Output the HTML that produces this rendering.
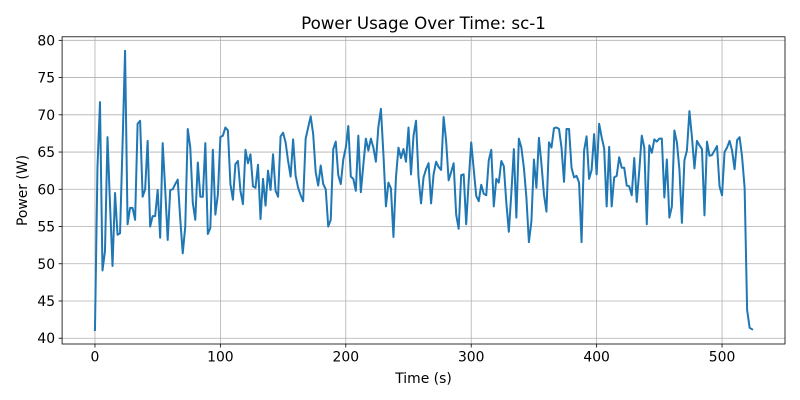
<!DOCTYPE html>
<html><head><meta charset="utf-8"><style>
html,body{margin:0;padding:0;background:#fff;}
svg{display:block;font-family:"DejaVu Sans","Liberation Sans",sans-serif;}
</style></head><body>
<svg id="chart" width="800" height="400" viewBox="0 0 800 400">
<rect width="800" height="400" fill="#fff"/>
<text x="423.5" y="29" text-anchor="middle" font-size="16.7" fill="#000">Power Usage Over Time: sc-1</text>
<text x="423.5" y="383" text-anchor="middle" font-size="13.9" fill="#000">Time (s)</text>
<text x="27" y="190.5" text-anchor="middle" font-size="13.9" fill="#000" transform="rotate(-90 27 190.5)">Power (W)</text>
<g id="grid"></g>
<g id="ticks"></g>
<g id="series"></g>
<rect x="62.1" y="36.8" width="722.9" height="307.2" fill="none" stroke="#000" stroke-width="0.8"/>
</svg>
<script>
const values = [41.1,63,71.7,49.1,51.7,67,58,49.7,59.5,53.9,54.1,66,78.6,55.3,57.5,57.5,55.9,68.8,69.2,59,60,66.5,55,56.4,56.4,59.9,53.5,66.2,60,53.2,59.9,60,60.7,61.3,56,51.4,55,68.1,65.6,58.2,55.9,63.6,59,59,66.2,54,54.8,65.3,56.6,59.3,67,67.2,68.3,67.9,60.7,58.6,63.4,63.8,59.8,58,65.3,63.5,64.7,60.4,60.2,63.3,
56,61.4,57.8,62.5,59.9,64.7,59.8,59,67.1,67.6,66.3,63.8,61.7,66.7,61.8,60.2,59.2,58.4,66.8,68.3,69.8,67.4,62.3,60.5,63.2,60.7,60,55,55.9,65.4,66.4,61.9,60.7,64,65.6,68.5,61.7,61.4,59.8,67.2,59.6,63.3,66.8,65.2,66.8,65.6,63.7,68.4,70.8,64.7,57.7,60.9,60.1,53.6,61.6,65.6,64.2,65.4,63.7,68.3,62,67.2,69.2,61.6,
58.1,61.6,62.7,63.5,58.1,62,63.7,63,62.6,69.7,66.5,61.2,62.3,63.5,56.6,54.7,61.9,62,55.3,61.1,66.3,62.7,59.1,58.4,60.6,59.4,59.2,63.9,65.3,57.7,61.4,60.9,63.8,63.1,58.2,54.3,59.5,65.4,56.2,66.8,65.6,62.9,58.9,52.9,55.7,64,60.2,66.9,63.4,59.3,57,66.3,65.6,68.2,68.3,68.1,65.6,61,68.1,68.1,62.9,61.6,61.8,60.9,
52.9,65.2,67.1,61.4,62.6,67.4,62,68.8,67,65.5,57.7,65.7,57.7,61.6,61.8,64.3,62.9,62.9,60.5,60.4,59.2,64.2,58.3,62.5,67.2,65.6,55.3,65.9,64.9,66.7,66.4,66.8,66.8,58.9,64,56.2,57.7,67.9,66.3,62.7,55.5,63.9,65.2,70.5,67,62.8,66.5,65.9,65.4,56.5,66.4,64.5,64.6,65.2,65.8,60.4,59.2,65,65.6,66.5,65.2,62.7,66.6,67,64.3,60.2,43.8,41.4,41.2];
const sampleStep = 2;
const times = values.map((_, i) => i * sampleStep);
const xTicks = [0,100,200,300,400,500];
const yTicks = [40,45,50,55,60,65,70,75,80];

const L=62.1,R=785,T=36.8,B=344;
const tMin=Math.min(...times),tMax=Math.max(...times);
const vMin=Math.min(...values),vMax=Math.max(...values);
const xm=(tMax-tMin)*0.05, ym=(vMax-vMin)*0.05;
const x0=tMin-xm,x1=tMax+xm,y0=vMin-ym,y1=vMax+ym;
const xs=t=>L+(t-x0)/(x1-x0)*(R-L);
const ys=v=>B-(v-y0)/(y1-y0)*(B-T);
const NS='http://www.w3.org/2000/svg';
const grid=document.getElementById('grid'),ticks=document.getElementById('ticks'),series=document.getElementById('series');
function mk(tag,attrs){const e=document.createElementNS(NS,tag);for(const k in attrs)e.setAttribute(k,attrs[k]);return e;}
xTicks.forEach(t=>{
  const x=xs(t);
  const g=mk('line',{x1:x,x2:x,y1:T,y2:B,stroke:'#b0b0b0','stroke-width':0.8});
  
  
  grid.appendChild(g);
  const tk=mk('line',{x1:x,x2:x,y1:B,y2:B+3.5,stroke:'#000','stroke-width':0.8});
  
  
  ticks.appendChild(tk);
  const lb=mk('text',{x:x,y:B+17.5,'text-anchor':'middle','font-size':13.9,fill:'#000'});
  lb.textContent=t;
  
  
  ticks.appendChild(lb);
});
yTicks.forEach(v=>{
  const y=ys(v);
  const g=mk('line',{x1:L,x2:R,y1:y,y2:y,stroke:'#b0b0b0','stroke-width':0.8});
  
  
  grid.appendChild(g);
  const tk=mk('line',{x1:L-3.5,x2:L,y1:y,y2:y,stroke:'#000','stroke-width':0.8});
  
  
  ticks.appendChild(tk);
  const lb=mk('text',{x:L-7,y:y+5,'text-anchor':'end','font-size':13.9,fill:'#000'});
  lb.textContent=v;
  
  
  ticks.appendChild(lb);
});
const d=values.map((v,i)=>(i?'L':'M')+xs(times[i]).toFixed(2)+' '+ys(v).toFixed(2)).join('');
const p=mk('path',{d:d,fill:'none',stroke:'#1f77b4','stroke-width':2,'stroke-linejoin':'round','stroke-linecap':'square'});


series.appendChild(p);
</script>
</body></html>
